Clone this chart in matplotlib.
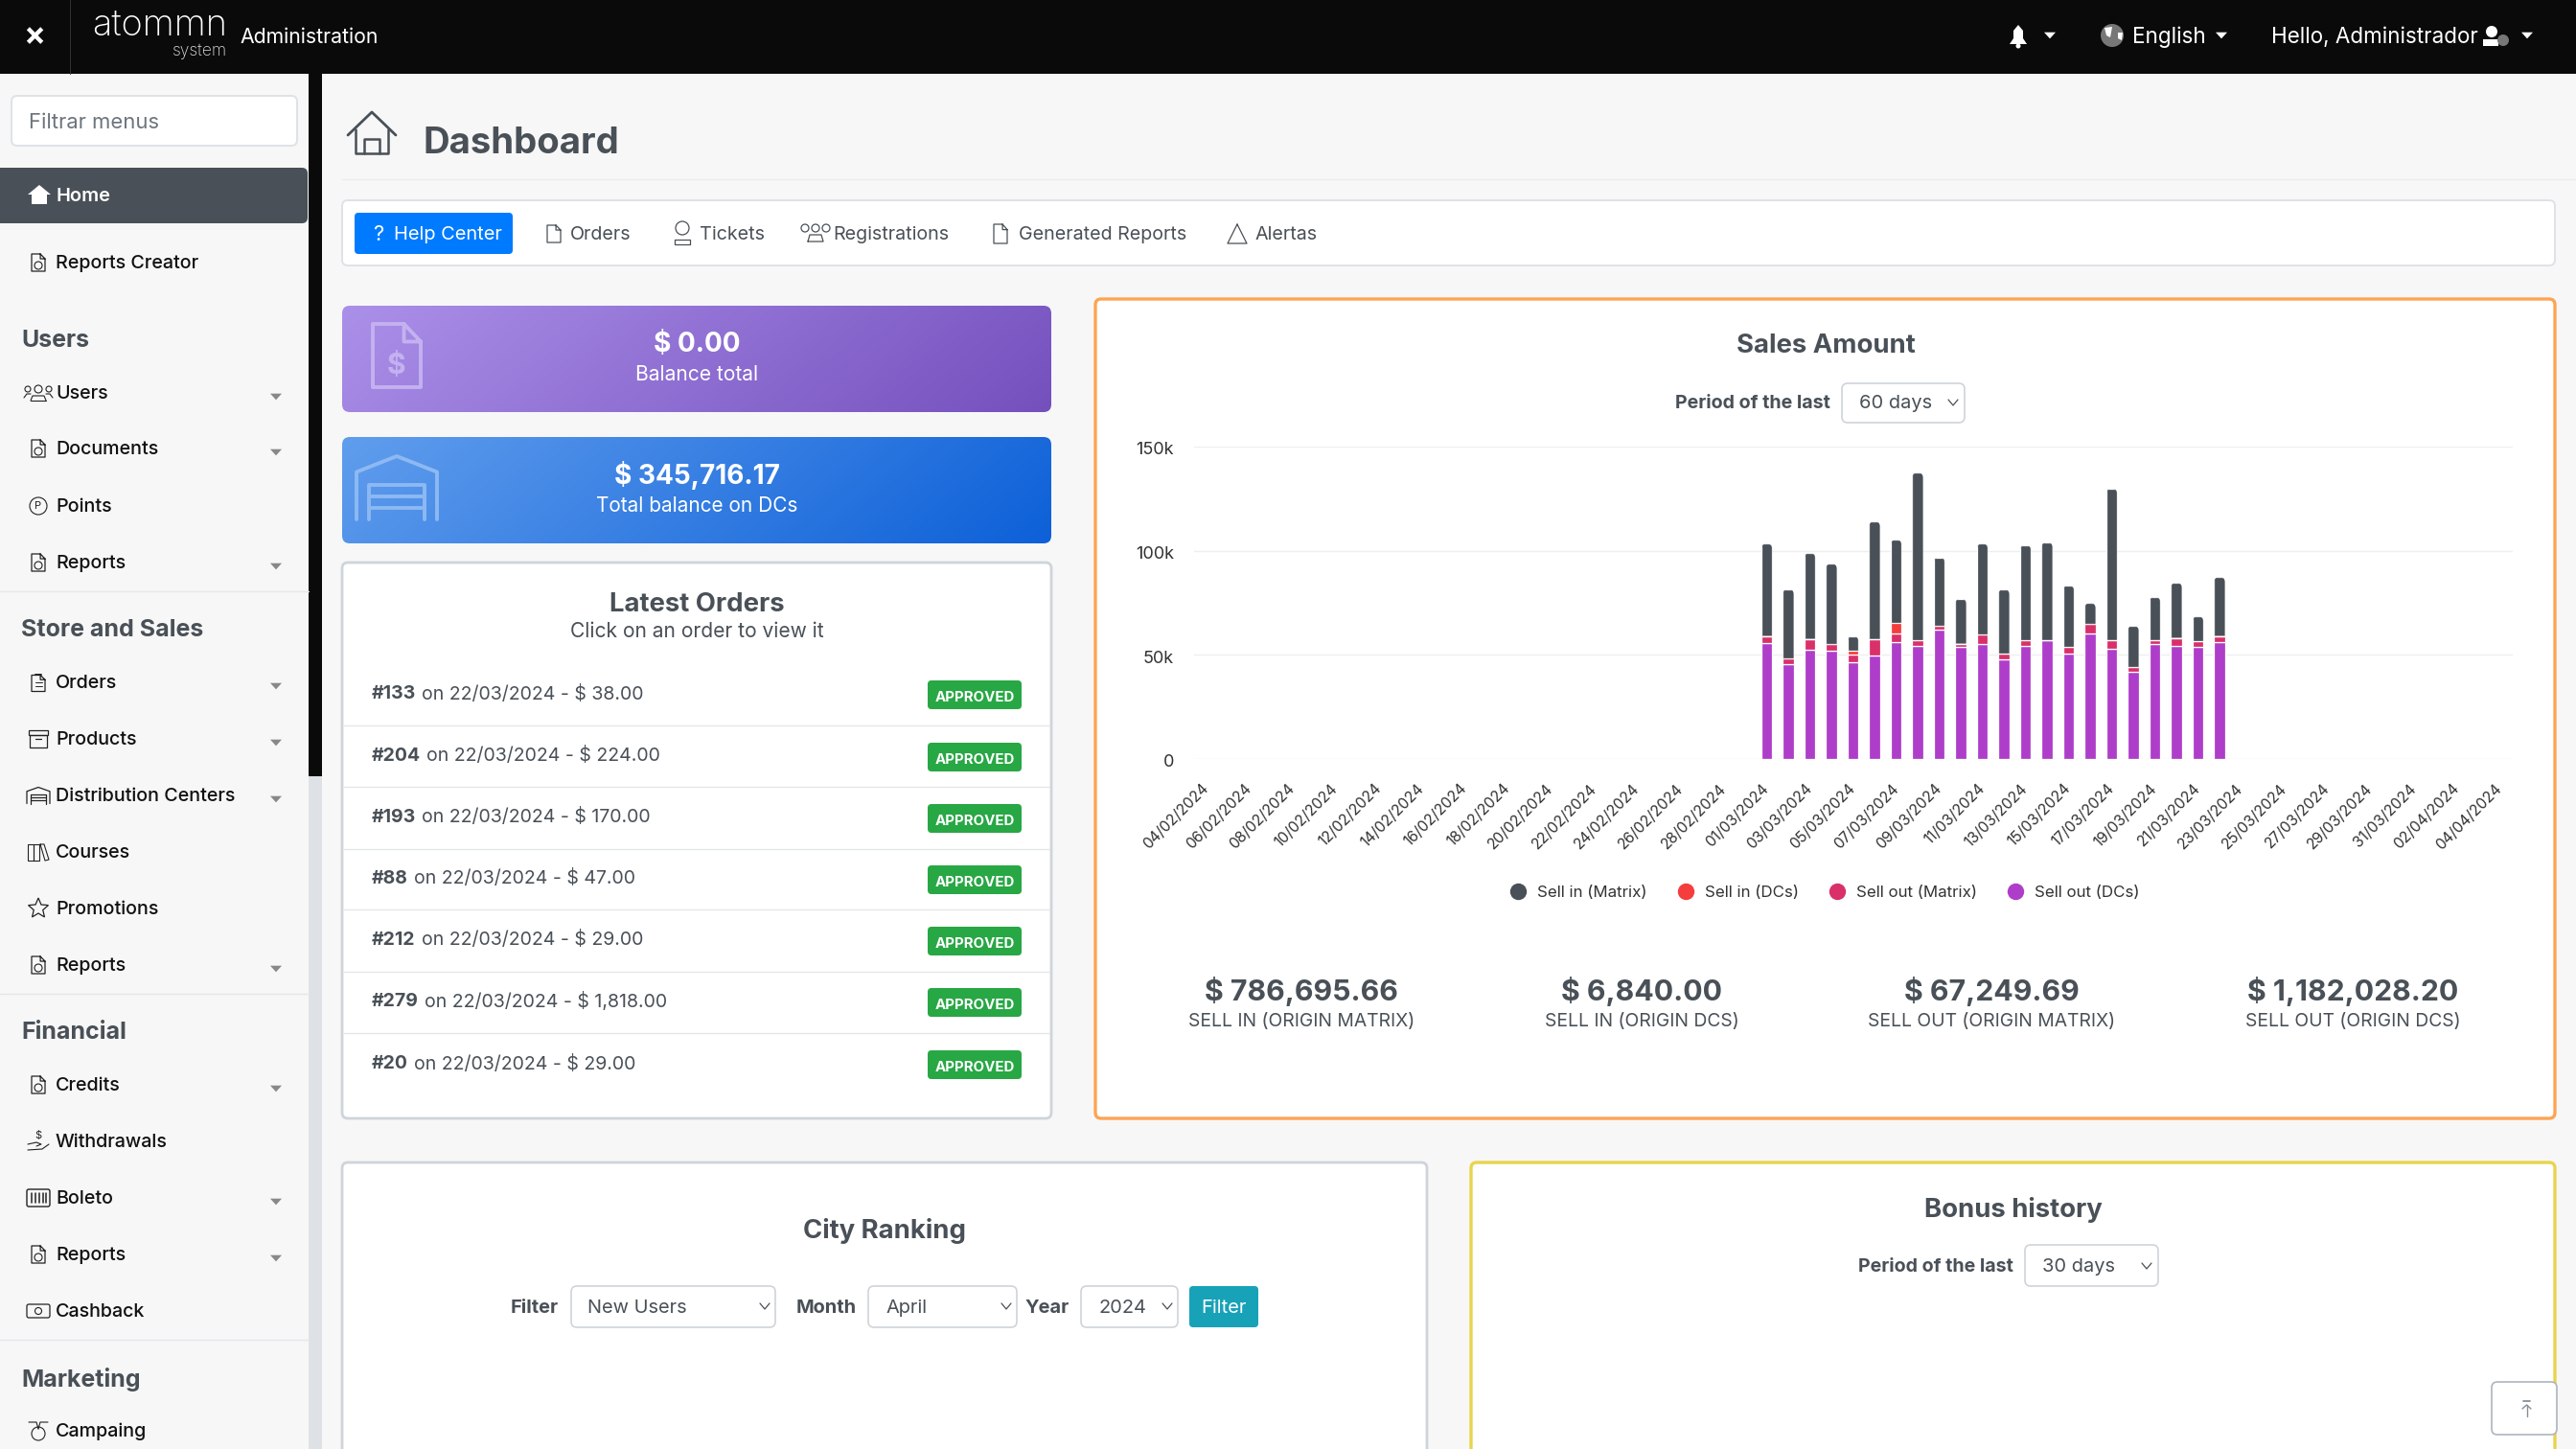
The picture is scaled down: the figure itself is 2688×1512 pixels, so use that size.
import numpy as np
import pandas as pd
import matplotlib
matplotlib.use("Agg")
import matplotlib.pyplot as plt
from matplotlib.lines import Line2D
from matplotlib.path import Path
from matplotlib.patches import FancyBboxPatch, Polygon, Circle, Rectangle
from matplotlib.transforms import ScaledTranslation

plt.rcParams['font.family'] = ['Inter', 'DejaVu Sans']

# chart data
days = list(pd.date_range("2024-02-04", "2024-04-04").strftime("%d/%m/%Y"))
first_bar_day = "01/03/2024"
sell_out_dcs = [55700, 45400, 52500, 51800, 46600, 49800, 56300, 54400, 62100, 53700, 55100,
                48000, 54400, 56900, 50600, 60100, 53100, 42000, 55100, 54400, 53700, 56300]
sell_out_matrix = [3400, 2800, 5200, 3200, 3400, 7800, 3800, 2600, 1700, 1700, 4600,
                   2600, 2600, 200, 3200, 4600, 4000, 2100, 2000, 3800, 2900, 2800]
sell_in_dcs = [0, 0, 0, 0, 2000, 0, 5200, 0, 0, 0, 0, 0, 0, 0, 0, 0, 0, 0, 0, 0, 0, 0]
sell_in_matrix = [44200, 33300, 41100, 38700, 6900, 56400, 39900, 80400, 33000, 21500, 43600,
                  30800, 45600, 46900, 29400, 10100, 72700, 19800, 20600, 26400, 11800, 28200]
y_ticks = [0, 50000, 100000, 150000]
y_labels = ["0", "50k", "100k", "150k"]
legend_names = ["Sell in (Matrix)", "Sell in (DCs)", "Sell out (Matrix)", "Sell out (DCs)"]

totals = ["$ 786,695.66", "$ 6,840.00", "$ 67,249.69", "$ 1,182,028.20"]
total_names = ["SELL IN (ORIGIN MATRIX)", "SELL IN (ORIGIN DCS)", "SELL OUT (ORIGIN MATRIX)", "SELL OUT (ORIGIN DCS)"]

# page text
order_ids = ["#133", "#204", "#193", "#88", "#212", "#279", "#20"]
order_vals = ["$ 38.00", "$ 224.00", "$ 170.00", "$ 47.00", "$ 29.00", "$ 1,818.00", "$ 29.00"]
tabs = ["Orders", "Tickets", "Registrations", "Generated Reports", "Alertas"]
tab_x = [595, 730, 869, 1063, 1310]
side_heads = [("Users", 353), ("Store and Sales", 655), ("Financial", 1075), ("Marketing", 1437)]
side_items = [("Users", 410, "users", 1), ("Documents", 468, "doc", 1), ("Points", 528, "points", 0),
              ("Reports", 587, "doc", 1), ("Orders", 712, "clip", 1), ("Products", 771, "box", 1),
              ("Distribution Centers", 830, "garage", 1), ("Courses", 889, "books", 0),
              ("Promotions", 948, "star", 0), ("Reports", 1007, "doc", 1), ("Credits", 1132, "doc", 1),
              ("Withdrawals", 1191, "hand", 0), ("Boleto", 1250, "bar", 1), ("Reports", 1309, "doc", 1),
              ("Cashback", 1368, "money", 0), ("Campaing", 1493, "medal", 0)]

GRAY = "#495057"
DARK = "#495057"
RED = "#f53d3d"
CRIMSON = "#d9306a"
PURPLE = "#ae3ec9"

fig = plt.figure(figsize=(26.88, 15.12), dpi=100, facecolor="#f7f7f7")
bg = fig.add_axes([0, 0, 1, 1])
bg.set_xlim(0, 2688)
bg.set_ylim(1512, 0)
bg.axis("off")


def T(x, y, s, px=19, color="#111111", ha="left", weight="normal", **kw):
    return bg.text(x, y + 2, s, fontsize=px * 0.72, color=color, ha=ha, va="center", weight=weight, **kw)


def box(x0, y0, x1, y1, fc="white", ec="none", lw=1.0, r=6, z=1):
    p = FancyBboxPatch((x0 + r, y0 + r), x1 - x0 - 2 * r, y1 - y0 - 2 * r,
                       boxstyle=f"round,pad={r},rounding_size={r}", fc=fc, ec=ec, lw=lw, zorder=z)
    bg.add_patch(p)
    return p


def L(xs, ys, c="#222222", lw=1.0, z=5):
    bg.plot(xs, ys, color=c, lw=lw, zorder=z, solid_capstyle="round", solid_joinstyle="round")


def caret(x, y, c="#888888", s=6):
    bg.add_patch(Polygon([(x - s, y - s * 0.55), (x + s, y - s * 0.55), (x, y + s * 0.55)], fc=c, ec="none", zorder=5))


def chevron(x, y, c=GRAY):
    L([x - 5, x, x + 5], [y - 3, y + 3, y - 3], c, 0.9)


def gradient(x0, y0, x1, y1, c0, c1):
    c0 = np.array(matplotlib.colors.to_rgb(c0))
    c1 = np.array(matplotlib.colors.to_rgb(c1))
    xx, yy = np.meshgrid(np.linspace(0, 1, 200), np.linspace(0, 1, 40))
    t = np.clip((xx * 0.85 + yy * 0.15), 0, 1)[..., None]
    im = bg.imshow(c0 * (1 - t) + c1 * t, extent=(x0, x1, y1, y0), aspect="auto", zorder=2)
    im.set_clip_path(box(x0, y0, x1, y1, fc="none", r=8))
    bg.set_xlim(0, 2688)
    bg.set_ylim(1512, 0)


def doc_icon(cx, cy, w=14, h=18, c="#222222", lw=0.9, z=5):
    x0, x1, y0, y1 = cx - w / 2, cx + w / 2, cy - h / 2, cy + h / 2
    L([x1 - w * 0.35, x0, x0, x1, x1, x1 - w * 0.35, x1 - w * 0.35, x1],
      [y0, y0, y1, y1, y0 + h * 0.28, y0, y0 + h * 0.28, y0 + h * 0.28], c, lw, z)


def garage_icon(cx, cy, w, h, c, lw, z=5):
    x0, x1, y0, y1 = cx - w / 2, cx + w / 2, cy - h / 2, cy + h / 2
    L([x0, x0, cx, x1, x1], [y1, y0 + h * 0.25, y0, y0 + h * 0.25, y1], c, lw, z)
    ix0, ix1 = x0 + w * 0.16, x1 - w * 0.16
    L([ix0, ix0, ix1, ix1], [y1, y0 + h * 0.45, y0 + h * 0.45, y1], c, lw, z)
    for f in (0.63, 0.82):
        L([ix0, ix1], [y0 + h * f, y0 + h * f], c, lw, z)


def side_icon(kind, cx, cy):
    if kind == "doc":
        doc_icon(cx, cy)
        bg.add_patch(Circle((cx, cy + 3), 4, fc="none", ec="#222222", lw=0.8, zorder=5))
    elif kind == "users":
        for dx, r in ((-11, 3), (0, 4), (11, 3)):
            bg.add_patch(Circle((cx + dx, cy - 4), r, fc="none", ec="#222222", lw=0.8, zorder=5))
        L([cx - 8, cx - 6, cx + 6, cx + 8], [cy + 8, cy + 3, cy + 3, cy + 8], lw=0.8)
        L([cx - 8, cx + 8], [cy + 8, cy + 8], lw=0.8)
        L([cx - 15, cx - 12, cx - 8], [cy + 5, cy + 1, cy + 1], lw=0.8)
        L([cx + 15, cx + 12, cx + 8], [cy + 5, cy + 1, cy + 1], lw=0.8)
    elif kind == "points":
        bg.add_patch(Circle((cx, cy), 9, fc="none", ec="#222222", lw=0.8, zorder=5))
        bg.text(cx, cy, "P", fontsize=8, ha="center", va="center", color="#222222", zorder=5)
    elif kind == "clip":
        doc_icon(cx, cy + 1, 14, 17)
        L([cx - 3, cx + 3], [cy - 8, cy - 8], lw=1.4)
        L([cx - 3, cx + 4], [cy, cy], lw=0.7)
        L([cx - 3, cx + 4], [cy + 4, cy + 4], lw=0.7)
    elif kind == "box":
        bg.add_patch(Rectangle((cx - 10, cy - 9), 20, 5, fc="none", ec="#222222", lw=0.9, zorder=5))
        bg.add_patch(Rectangle((cx - 9, cy - 4), 18, 13, fc="none", ec="#222222", lw=0.9, zorder=5))
        L([cx - 3, cx + 3], [cy, cy], lw=0.9)
    elif kind == "garage":
        garage_icon(cx, cy, 24, 17, "#222222", 0.9)
    elif kind == "books":
        bg.add_patch(Rectangle((cx - 11, cy - 8), 6, 17, fc="none", ec="#222222", lw=0.8, zorder=5))
        bg.add_patch(Rectangle((cx - 5, cy - 8), 6, 17, fc="none", ec="#222222", lw=0.8, zorder=5))
        L([cx + 2, cx + 6, cx + 11, cx + 7, cx + 2], [cy - 8, cy - 8, cy + 8, cy + 9, cy - 8], lw=0.8)
    elif kind == "star":
        a = np.deg2rad(np.arange(-90, 270, 36))
        rr = np.where(np.arange(10) % 2 == 0, 11, 5)
        bg.add_patch(Polygon(np.c_[cx + rr * np.cos(a), cy + rr * np.sin(a)], fc="none", ec="#222222", lw=0.9, zorder=5))
    elif kind == "hand":
        bg.text(cx, cy - 6, "$", fontsize=8, ha="center", va="center", color="#222222", zorder=5)
        L([cx - 11, cx - 2, cx + 3, cx - 2], [cy + 3, cy + 1, cy + 3, cy + 5], lw=0.8)
        L([cx - 11, cx + 4, cx + 11], [cy + 9, cy + 8, cy + 3], lw=0.8)
    elif kind == "bar":
        box(cx - 12, cy - 9, cx + 12, cy + 9, fc="none", ec="#222222", lw=1.0, r=2, z=5)
        for dx in (-7, -3, 1, 5, 8):
            L([cx + dx, cx + dx], [cy - 5, cy + 5], lw=1.1)
    elif kind == "money":
        box(cx - 12, cy - 7, cx + 12, cy + 7, fc="none", ec="#222222", lw=0.9, r=2, z=5)
        bg.add_patch(Circle((cx, cy), 3.5, fc="none", ec="#222222", lw=0.8, zorder=5))
    elif kind == "medal":
        L([cx - 10, cx - 2, cx], [cy - 9, cy - 9, cy - 2], lw=0.8)
        L([cx + 10, cx + 2, cx], [cy - 9, cy - 9, cy - 2], lw=0.8)
        bg.add_patch(Circle((cx, cy + 3), 7, fc="none", ec="#222222", lw=0.8, zorder=5))


# header
bg.add_patch(Rectangle((0, 0), 2688, 77, fc="#0a0a0a", ec="none", zorder=1))
L([73, 73], [0, 77], "#333333", 0.7)
T(36, 36, "×", 34, "white", ha="center", weight="bold", zorder=6)
T(237, 26, "atommn", 38, "white", ha="right", weight="light", zorder=6)
T(237, 52, "system", 17.5, "#dddddd", ha="right", weight="light", zorder=6)
T(250, 37, "Administration", 21.2, "white", zorder=6)
bg.add_patch(Polygon([(2097, 46), (2101, 40), (2101, 32), (2106, 26), (2111, 32), (2111, 40), (2115, 46)], fc="white", ec="none", zorder=6))
bg.add_patch(Circle((2106, 48), 2.5, fc="white", ec="none", zorder=6))
caret(2139, 37, "white")
bg.add_patch(Circle((2204, 37), 12, fc="#777777", ec="none", zorder=6))
bg.add_patch(Polygon([(2196, 29), (2204, 28), (2202, 39), (2198, 37)], fc="white", ec="none", zorder=7))
bg.add_patch(Polygon([(2210, 34), (2215, 34), (2214, 42), (2210, 40)], fc="white", ec="none", zorder=7))
T(2225, 37, "English", 22.5, "white", zorder=6)
caret(2318, 37, "white")
T(2370, 37, "Hello, Administrador", 22.4, "white", zorder=6)
bg.add_patch(Circle((2600, 33), 6, fc="white", ec="none", zorder=6))
bg.add_patch(Polygon([(2591, 48), (2591, 41), (2607, 41), (2607, 48)], fc="white", ec="none", zorder=6))
bg.add_patch(Circle((2612, 42), 6, fc="#777777", ec="none", zorder=6))
caret(2637, 37, "white")

# sidebar
bg.add_patch(Rectangle((322, 77), 14, 733, fc="#0a0a0a", ec="none", zorder=1))
bg.add_patch(Rectangle((322, 810), 14, 702, fc="#dee2e6", ec="none", zorder=1))
box(12, 100, 310, 152, ec="#dee2e6", lw=1.4, r=6)
T(30, 126, "Filtrar menus", 22, "#6c757d")
box(-10, 175, 321, 233, fc=GRAY, r=6)
bg.add_patch(Polygon([(29, 203), (41, 193), (53, 203), (49, 203), (49, 213), (33, 213), (33, 203)], fc="white", ec="none", zorder=5))
T(58, 203, "Home", 20, "white", weight="semibold", zorder=6)
side_icon("doc", 40, 274)
T(58, 273, "Reports Creator", 19.7, "#111111", weight="medium")
for name, y in side_heads:
    T(22, y, name, 25, GRAY, weight="bold")
for name, y, kind, sub in side_items:
    side_icon(kind, 40, y)
    T(58, y - 1, name, 19.7, "#111111", weight="medium")
    if sub:
        caret(288, y + 4, "#888888", 6)
for y in (617, 1037, 1398):
    L([0, 322], [y, y], "#e3e7eb", 1.0, 2)

# title and tabs
L([363, 388, 413], [141, 117, 141], GRAY, 2.0)
L([371, 371, 405, 405], [135, 160, 160, 135], GRAY, 1.8)
L([380, 380, 396, 396], [160, 145, 145, 160], GRAY, 1.8)
T(442, 147.5, "Dashboard", 38.3, GRAY, weight="bold")
L([357, 2688], [187, 187], "#e9ecef", 1.0, 1)
box(357, 209, 2666, 277, ec="#dee2e6", lw=1.4, r=6)
box(370, 222, 535, 265, fc="#007bff", r=4, z=2)
T(411, 243, "Help Center", 20, "white", zorder=5)
T(395, 243, "?", 22, "white", ha="center", zorder=5)
for name, x in zip(tabs, tab_x):
    T(x, 243, name, 19.7, GRAY)
doc_icon(578, 244, 14, 18, GRAY)
bg.add_patch(Circle((712, 238), 7, fc="none", ec=GRAY, lw=0.9, zorder=5))
L([704, 720, 720, 704, 704], [250, 250, 255, 255, 250], GRAY, 0.9)
for dx in (-11, 0, 11):
    bg.add_patch(Circle((851 + dx, 238), 4, fc="none", ec=GRAY, lw=0.9, zorder=5))
L([843, 845, 857, 859, 843], [252, 245, 245, 252, 252], GRAY, 0.9)
doc_icon(1044, 244, 14, 20, GRAY)
L([1291, 1281, 1301, 1291], [234, 254, 254, 234], GRAY, 0.9)

# balance cards
gradient(357, 319, 1097, 430, "#ab90e9", "#7450bd")
gradient(357, 456, 1097, 567, "#609ded", "#0d60d8")
doc_icon(414, 371, 50, 66, "#c4b1f0", 2.8, z=6)
T(414, 380, "$", 30, "#c4b1f0", ha="center", weight="bold", zorder=6)
garage_icon(414, 509, 84, 66, "#8db9f2", 2.8, z=6)
T(727, 358, "$ 0.00", 28, "white", ha="center", weight="bold", zorder=6)
T(727, 389, "Balance total", 21, "white", ha="center", zorder=6)
T(727, 494, "$ 345,716.17", 28, "white", ha="center", weight="bold", zorder=6)
T(727, 526, "Total balance on DCs", 20.8, "white", ha="center", zorder=6)

# latest orders
box(357, 587, 1097, 1167, ec="#ced4da", lw=2.0, r=6)
T(727, 628.5, "Latest Orders", 27.5, GRAY, ha="center", weight="bold")
T(727, 657, "Click on an order to view it", 21, GRAY, ha="center")
rend = fig.canvas.get_renderer()
row_y = [723, 788, 852, 916, 980, 1044, 1109]
for oid, val, y in zip(order_ids, order_vals, row_y):
    t = T(388, y - 1, oid, 19.5, GRAY, weight="bold")
    w = t.get_window_extent(rend).width
    T(388 + w + 6, y - 1, f"on 22/03/2024 - {val}", 19.5, GRAY)
    box(968, y - 13, 1066, y + 17, fc="#28a745", r=4, z=2)
    T(1017, y + 3, "APPROVED", 15, "white", ha="center", weight="bold", zorder=5)
for y in (757, 821, 886, 949, 1014, 1078):
    L([359, 1095], [y, y], "#e3e6ea", 1.0, 2)

# sales amount card
box(1143, 312, 2666, 1167, ec="#fda453", lw=2.4, r=6)
T(1905, 359.5, "Sales Amount", 27.5, GRAY, ha="center", weight="bold")
T(1910, 419, "Period of the last", 19.6, GRAY, ha="right", weight="bold")
box(1922, 400, 2050, 441, ec="#ced4da", lw=1.2, r=6)
T(1940, 419, "60 days", 20, GRAY)
chevron(2038, 420)

# the chart itself
ax = fig.add_axes([1246 / 2688, 1 - 792 / 1512, (2622 - 1246) / 2688, (792 - 466) / 1512])
ax.patch.set_alpha(0)
offset = days.index(first_bar_day)
pos = np.arange(len(sell_out_dcs)) + offset
bottom = np.zeros(len(pos))
for vals, col in ((sell_out_dcs, PURPLE), (sell_out_matrix, CRIMSON), (sell_in_dcs, RED), (sell_in_matrix, DARK)):
    bars = ax.bar(pos, vals, 0.5, bottom=bottom, color=col, edgecolor="white", linewidth=0.9, zorder=3)
    bottom = bottom + np.array(vals)
# rounded tops on the last series
ry = 2400
rx = 0.23
for rect in bars:
    x0, x1 = rect.get_x(), rect.get_x() + rect.get_width()
    y0, y1 = rect.get_y(), rect.get_y() + rect.get_height()
    verts = [(x0, y0), (x0, y1 - ry), (x0, y1), (x0 + rx, y1), (x1 - rx, y1), (x1, y1), (x1, y1 - ry), (x1, y0), (x0, y0)]
    codes = [Path.MOVETO, Path.LINETO, Path.CURVE3, Path.CURVE3, Path.LINETO, Path.CURVE3, Path.CURVE3, Path.LINETO, Path.CLOSEPOLY]
    rect.set_clip_path(Path(verts, codes), ax.transData)
ax.set_xlim(-0.56, 60.6)
ax.set_ylim(0, 150000)
ax.set_yticks(y_ticks, y_labels)
ax.set_xticks(range(0, len(days), 2), days[::2], rotation=45, ha="right", va="center", rotation_mode="anchor")
ax.tick_params(axis="y", length=0, pad=15, labelsize=13, labelcolor="#333333")
ax.tick_params(axis="x", length=0, pad=20.5, labelsize=11.3, labelcolor="#333333")
for lab in ax.get_yticklabels():
    lab.set_transform(lab.get_transform() + ScaledTranslation(0, -2 / 100, fig.dpi_scale_trans))
ax.grid(axis="y", color="#efefef", lw=1.0)
ax.set_axisbelow(True)
for s in ax.spines.values():
    s.set_visible(False)
handles = [Line2D([], [], ls="", marker="o", ms=11.5, color=c) for c in (DARK, RED, CRIMSON, PURPLE)]
ax.legend(handles, legend_names, ncol=4, frameon=False, fontsize=12.2, loc="center",
          bbox_to_anchor=((1900 - 1246) / 1376, -(931 - 792) / 326), labelcolor="#333333",
          handletextpad=0.15, columnspacing=1.4)

for x, v, n in zip((1358, 1713, 2078, 2455), totals, total_names):
    T(x, 1032, v, 30.2, GRAY, ha="center", weight="bold")
    T(x, 1064, n, 19.3, GRAY, ha="center")

# city ranking
box(357, 1213, 1489, 1560, ec="#ced4da", lw=2.0, r=6)
T(923, 1282, "City Ranking", 27.5, GRAY, ha="center", weight="bold")
T(583, 1363.5, "Filter", 20, GRAY, ha="right", weight="bold")
box(596, 1342, 809, 1385, ec="#ced4da", lw=1.2, r=6)
T(613, 1363.5, "New Users", 20, GRAY)
chevron(798, 1363)
T(894, 1363.5, "Month", 20, GRAY, ha="right", weight="bold")
box(906, 1342, 1061, 1385, ec="#ced4da", lw=1.2, r=6)
T(924, 1363.5, "April", 20, GRAY)
chevron(1050, 1363)
T(1116, 1363.5, "Year", 20, GRAY, ha="right", weight="bold")
box(1128, 1342, 1229, 1385, ec="#ced4da", lw=1.2, r=6)
T(1146, 1363.5, "2024", 20, GRAY)
chevron(1218, 1363)
box(1241, 1342, 1313, 1385, fc="#17a2b8", r=4)
T(1277, 1363.5, "Filter", 20, "white", ha="center", zorder=5)

# bonus history
box(1535, 1213, 2666, 1560, ec="#e8d44d", lw=2.4, r=6)
T(2101, 1260, "Bonus history", 27.5, GRAY, ha="center", weight="bold")
T(2101, 1320, "Period of the last", 19.6, GRAY, ha="right", weight="bold")
box(2113, 1299, 2252, 1342, ec="#ced4da", lw=1.2, r=6)
T(2131, 1320, "30 days", 20, GRAY)
chevron(2240, 1321)

# back to top button
box(2600, 1442, 2668, 1497, ec="#adb5bd", lw=1.2, r=6, z=4)
L([2633, 2640], [1462, 1462], "#868e96", 1.3, 6)
L([2636.5, 2636.5], [1478, 1466], "#868e96", 1.0, 6)
L([2632, 2636.5, 2641], [1470, 1466, 1470], "#868e96", 1.0, 6)

fig.savefig("out.png", dpi=100, facecolor=fig.get_facecolor())
